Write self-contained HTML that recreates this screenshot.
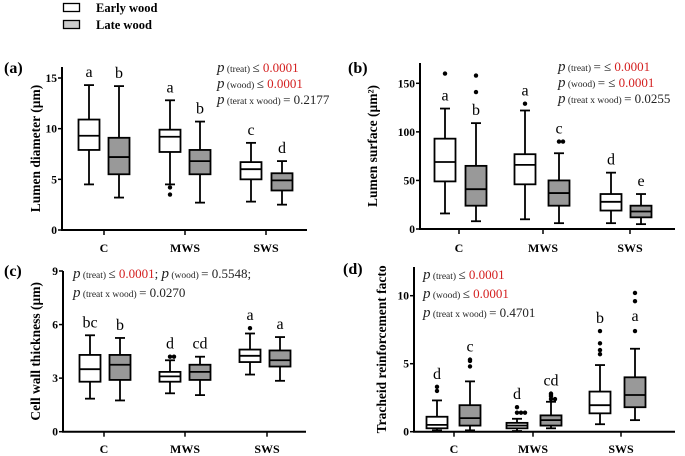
<!DOCTYPE html>
<html><head><meta charset="utf-8"><style>
html,body{margin:0;padding:0;background:#fff;}
svg{display:block;font-family:"Liberation Serif",serif;}
svg text, svg tspan{font-family:"Liberation Serif","DejaVu Serif",serif;}
</style></head><body>
<svg id="fig" width="685" height="456" viewBox="0 0 685 456" xmlns="http://www.w3.org/2000/svg">
<g>
<rect x="63.5" y="3.5" width="16" height="8" fill="#fff" stroke="#000" stroke-width="1.3"/>
<text x="96" y="12" font-size="12.5" font-weight="bold">Early wood</text>
<rect x="63.5" y="20.5" width="16" height="8" fill="#ccc" stroke="#000" stroke-width="1.3"/>
<text x="96" y="29" font-size="12.5" font-weight="bold">Late wood</text>
</g>
</svg>
<script>
// Categories
const categories = ["C","MWS","SWS"];
// Panel (a) Lumen diameter: [C-early, C-late, MWS-early, MWS-late, SWS-early, SWS-late]
const aLo  = [4.5, 3.2, 4.5, 2.7, 2.8, 2.5];
const aQ1  = [7.9, 5.5, 7.7, 5.5, 5.0, 3.9];
const aMed = [9.3, 7.2, 9.2, 6.8, 6.0, 4.9];
const aQ3  = [10.9, 9.1, 9.9, 7.9, 6.7, 5.6];
const aHi  = [14.3, 14.2, 12.8, 10.7, 8.6, 6.8];
const aOut = [[], [], [4.2, 3.5], [], [], []];
const aLetters = ["a","b","a","b","c","d"];
const aTicks = [0, 5, 10, 15];
// Panel (b) Lumen surface
const bLo  = [16, 8, 10, 6, 6, 5];
const bQ1  = [49, 24, 46, 24, 19, 12];
const bMed = [69, 41, 66, 37, 28, 18];
const bQ3  = [93, 65, 77, 50, 36, 24];
const bHi  = [124, 109, 122, 78, 58, 36];
const bOut = [[160], [158, 141], [129], [90, 90], [], []];
const bLetters = ["a","b","a","c","d","e"];
const bTicks = [0, 50, 100, 150];
// Panel (c) Cell wall thickness
const cLo  = [1.85, 1.75, 2.15, 2.05, 3.2, 2.85];
const cQ1  = [2.8, 2.9, 2.8, 2.9, 3.9, 3.65];
const cMed = [3.5, 3.75, 3.1, 3.35, 4.25, 4.0];
const cQ3  = [4.3, 4.3, 3.35, 3.75, 4.6, 4.55];
const cHi  = [5.4, 5.25, 4.0, 4.2, 5.5, 5.3];
const cOut = [[], [], [4.2, 4.2], [], [5.8], []];
const cLetters = ["bc","b","d","cd","a","a"];
const cTicks = [0, 3, 6, 9];
// Panel (d) Tracheid reinforcement factor
const dLo  = [0.1, 0.1, 0.05, 0.25, 0.55, 0.85];
const dQ1  = [0.25, 0.45, 0.25, 0.45, 1.35, 1.8];
const dMed = [0.5, 1.0, 0.45, 0.85, 1.95, 2.7];
const dQ3  = [1.1, 1.95, 0.65, 1.2, 2.95, 4.0];
const dHi  = [2.3, 3.7, 0.95, 2.2, 4.9, 6.1];
const dOut = [[3.3, 3.0], [5.3, 5.2, 4.8], [1.8, 1.4, 1.4, 1.4], [2.8, 2.7, 2.6, 2.4, 2.4], [7.4, 6.5, 6.0, 5.7], [10.2, 9.6, 7.4]];
const dLetters = ["d","c","d","cd","b","a"];
const dTicks = [0, 5, 10];

const NS = "http://www.w3.org/2000/svg";
const svg = document.getElementById("fig");
function mk(tag, attrs, parent) {
  const e = document.createElementNS(NS, tag);
  for (const k in attrs) e.setAttribute(k, attrs[k]);
  (parent || svg).appendChild(e);
  return e;
}

const panels = [
  {id:"a", ax:62, ay0:230, ayTop:67, axEnd:307, unitPx:(230-78)/15,
   centers:[89,119,170,200,251,282], ticksX:[104,185,266], xlabY:252,
   lo:aLo,q1:aQ1,med:aMed,q3:aQ3,hi:aHi,out:aOut,letters:aLetters,ticks:aTicks,
   title:"Lumen diameter (µm)", titleX:35, label:"(a)", labelX:4, labelY:73},
  {id:"b", ax:420, ay0:229, ayTop:63, axEnd:675, unitPx:(229-83.3)/150,
   centers:[445,476,525,559,611,641], ticksX:[459,543,630], xlabY:252,
   lo:bLo,q1:bQ1,med:bMed,q3:bQ3,hi:bHi,out:bOut,letters:bLetters,ticks:bTicks,
   title:"Lumen surface (µm²)", titleX:372, label:"(b)", labelX:348, labelY:73},
  {id:"c", ax:63, ay0:431.7, ayTop:271, axEnd:306, unitPx:(431.7-271)/9,
   centers:[90,120,170,200,250,280], ticksX:[104,185,267], xlabY:453,
   lo:cLo,q1:cQ1,med:cMed,q3:cQ3,hi:cHi,out:cOut,letters:cLetters,ticks:cTicks,
   title:"Cell wall thickness (µm)", titleX:35, label:"(c)", labelX:4, labelY:276},
  {id:"d", ax:414, ay0:431.7, ayTop:267, axEnd:675, unitPx:(431.7-295.7)/10,
   centers:[437,470,517,551,600,635], ticksX:[454,533,621], xlabY:453,
   lo:dLo,q1:dQ1,med:dMed,q3:dQ3,hi:dHi,out:dOut,letters:dLetters,ticks:dTicks,
   title:"Tracheid reinforcement facto", titleX:381, label:"(d)", labelX:343, labelY:274}
];

panels.forEach(p => {
  const g = mk("g", {});
  
  
  const y = v => p.ay0 - v * p.unitPx;
  const ya = mk("line", {x1:p.ax, y1:p.ayTop, x2:p.ax, y2:p.ay0, stroke:"#000", "stroke-width":2}, g);
  
  
  const xa = mk("line", {x1:p.ax-1, y1:p.ay0, x2:p.axEnd, y2:p.ay0, stroke:"#000", "stroke-width":2}, g);
  
  
  p.ticks.forEach(t => {
    mk("line", {x1:p.ax-4, y1:y(t), x2:p.ax, y2:y(t), stroke:"#000", "stroke-width":1.5}, g);
    const tl = mk("text", {x:p.ax-5, y:y(t)+4, "font-size":11.5, "font-weight":"bold", "text-anchor":"end"}, g);
    tl.textContent = t;
    
    
  });
  categories.forEach((c, i) => {
    mk("line", {x1:p.ticksX[i], y1:p.ay0, x2:p.ticksX[i], y2:p.ay0+5, stroke:"#000", "stroke-width":1.5}, g);
    const xl = mk("text", {x:p.ticksX[i], y:p.xlabY, "font-size":12, "font-weight":"bold", "text-anchor":"middle"}, g);
    xl.textContent = c;
    
    
  });
  const tt = mk("text", {x:0, y:0, "font-size":13.5, "font-weight":"bold", "text-anchor":"middle",
    transform:`translate(${p.titleX+5},${(p.ayTop+p.ay0)/2}) rotate(-90)`}, g);
  tt.textContent = p.title;
  
  
  const pl = mk("text", {x:p.labelX, y:p.labelY, "font-size":16, "font-weight":"bold"}, g);
  pl.textContent = p.label;
  
  
  p.centers.forEach((cx, i) => {
    const late = i % 2 === 1;
    const bg = mk("g", {}, g);
    
    
    const w = 21;
    mk("line", {x1:cx, y1:y(p.hi[i]), x2:cx, y2:y(p.q3[i]), stroke:"#000", "stroke-width":1.8}, bg);
    mk("line", {x1:cx, y1:y(p.q1[i]), x2:cx, y2:y(p.lo[i]), stroke:"#000", "stroke-width":1.8}, bg);
    mk("line", {x1:cx-5, y1:y(p.hi[i]), x2:cx+5, y2:y(p.hi[i]), stroke:"#000", "stroke-width":1.8}, bg);
    mk("line", {x1:cx-5, y1:y(p.lo[i]), x2:cx+5, y2:y(p.lo[i]), stroke:"#000", "stroke-width":1.8}, bg);
    mk("rect", {x:cx-w/2, y:y(p.q3[i]), width:w, height:y(p.q1[i])-y(p.q3[i]), fill:late?"#999":"#fff", stroke:"#000", "stroke-width":1.8}, bg);
    mk("line", {x1:cx-w/2, y1:y(p.med[i]), x2:cx+w/2, y2:y(p.med[i]), stroke:"#000", "stroke-width":1.8}, bg);
    const seen = {};
    p.out[i].forEach(v => {
      const k = v.toFixed(2); seen[k] = (seen[k] || 0) + 1;
      const dx = (seen[k] - 1) * 4;
      const o = mk("circle", {cx:cx + dx, cy:y(v), r:2.2, fill:"#000"}, bg);
      
      
    });
    let ly = y(p.hi[i]) - 8;
    const above = p.out[i].filter(v => v > p.hi[i]);
    if (above.length) ly = y(Math.max(...above)) - 8;
    if (p.id==="b" && i<2) ly = y(p.hi[i]) - 8;
    if (p.id==="d" && i===5) ly = y(7.4) - 10;
    const lt = mk("text", {x:cx, y:ly, "font-size":16, "text-anchor":"middle"}, bg);
    lt.textContent = p.letters[i];
    
    
  });
});

function ts(parent, txt, attrs) {
  const s = mk("tspan", attrs || {}, parent);
  s.textContent = txt;
  return s;
}
function pline(x, yy, parts) {
  const t = mk("text", {x:x, y:yy, "font-size":13, fill:"#222", "font-family":"Liberation Serif, DejaVu Serif, serif"});
  
  
  parts.forEach(pt => {
    if (pt[0] === "p") ts(t, "p", {"font-style":"italic", "font-size":15});
    else if (pt[0] === "sub") ts(t, " (" + pt[1] + ") ", {"font-size":9.5});
    else if (pt[0] === "red") ts(t, pt[1], {fill:"#d42020"});
    else ts(t, pt[1]);
  });
}
pline(217, 72, [["p"],["sub","treat"],["t","≤ "],["red","0.0001"]]);
pline(217, 88, [["p"],["sub","wood"],["t","≤ "],["red","0.0001"]]);
pline(217, 104, [["p"],["sub","terat x wood"],["t","= 0.2177"]]);
pline(558, 71, [["p"],["sub","treat"],["t","= ≤ "],["red","0.0001"]]);
pline(558, 87, [["p"],["sub","wood"],["t","= ≤ "],["red","0.0001"]]);
pline(558, 103, [["p"],["sub","treat x wood"],["t","= 0.0255"]]);
pline(73, 278, [["p"],["sub","treat"],["t","≤ "],["red","0.0001"],["t","; "],["p"],["sub","wood"],["t","= 0.5548;"]]);
pline(73, 297, [["p"],["sub","treat x wood"],["t","= 0.0270"]]);
pline(423, 279, [["p"],["sub","treat"],["t","≤ "],["red","0.0001"]]);
pline(423, 298, [["p"],["sub","wood"],["t","≤ "],["red","0.0001"]]);
pline(423, 317, [["p"],["sub","treat x wood"],["t","= 0.4701"]]);
</script>
</body></html>
